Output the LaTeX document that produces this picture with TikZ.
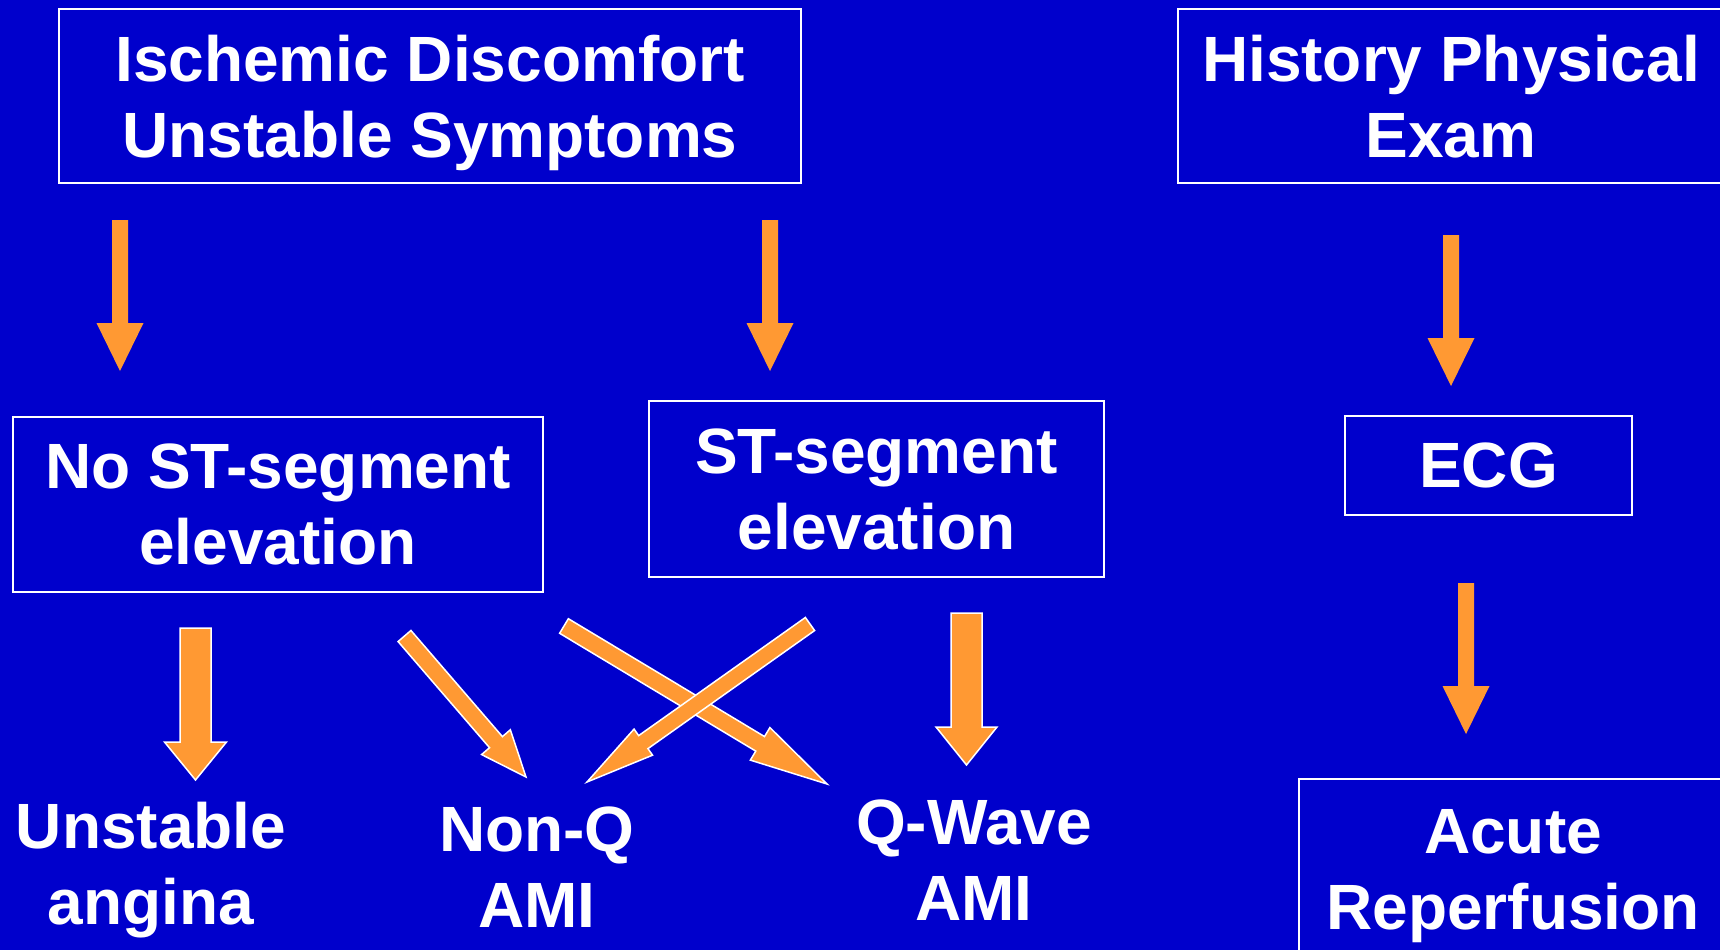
\documentclass[tikz,border=0pt]{standalone}
\usepackage{fontspec}
\setmainfont{Liberation Sans}
\usepackage{xcolor}
\usepackage{tikz}
\usetikzlibrary{calc}

\definecolor{slideblue}{HTML}{0000CC}
\definecolor{arrowfill}{HTML}{FF9933}

\tikzset{
  statebox/.style={draw=white, line width=2pt, text=white, align=center, inner sep=0pt,
    text depth=0pt, font=\fontsize{64}{76}\selectfont\bfseries},
  outcome/.style={text=white, align=center, inner sep=0pt,
    text depth=0pt, font=\fontsize{64}{76}\selectfont\bfseries},
  % block arrow: shaft width, head width, head length
  blockarrow/.style n args={3}{to path={
    ($(\tikztotarget)!#3!(\tikztostart)$) coordinate (hb)
    ($(\tikztostart)!#1/2!90:(\tikztotarget)$)
    -- ($(hb)!#1/2!90:(\tikztotarget)$)
    -- ($(hb)!#2/2!90:(\tikztotarget)$)
    -- (\tikztotarget)
    -- ($(hb)!#2/2!-90:(\tikztotarget)$)
    -- ($(hb)!#1/2!-90:(\tikztotarget)$)
    -- ($(\tikztostart)!#1/2!-90:(\tikztotarget)$)
    -- cycle}},
  thinarrow/.style={fill=arrowfill, blockarrow={16pt}{47pt}{48pt}},
  thickarrow/.style n args={3}{fill=arrowfill, draw=white, line width=1.5pt,
    blockarrow={#1}{#2}{#3}},
}

\begin{document}
\begin{tikzpicture}[x=1pt, y=-1pt]
    \fill[slideblue] (0,0) rectangle (1720,950);
    \useasboundingbox (0,0) rectangle (1720,950);
    \clip (0,0) rectangle (1720,950);
    % Boxes
    \node[statebox, minimum width=742, minimum height=174] (isch) at (430,96) {Ischemic Discomfort\\Unstable Symptoms};
    \node[statebox, minimum width=546, minimum height=174] (hist) at (1451,96) {History Physical\\Exam};
    \node[statebox, minimum width=530, minimum height=175] (nost) at (278,504.5) {No ST-segment\\elevation};
    \node[statebox, minimum width=455, minimum height=176] (stel) at (876.5,489) {ST-segment\\elevation};
    \node[statebox, minimum width=287, minimum height=99] (ecg) at (1488.5,465.5) {ECG};
    \node[statebox, minimum width=428, minimum height=180] (acute) at (1513,869) {Acute\\Reperfusion};
    % Outcomes
    \node[outcome] (ua) at (151,863) {Unstable\\angina};
    \node[outcome] (nonq) at (537,867) {Non-Q\\AMI};
    \node[outcome] (qwave) at (974,860) {Q-Wave\\AMI};
    % Arrow ends
    \coordinate (isch l) at (120,220);   \coordinate (nost t) at (120,371);
    \coordinate (isch r) at (770,220);   \coordinate (stel t) at (770,371);
    \coordinate (hist b) at (1451,235);  \coordinate (ecg t) at (1451,386);
    \coordinate (ecg b) at (1466,583);   \coordinate (acute t) at (1466,734);
    \coordinate (nost a) at (195.5,628); \coordinate (ua t) at (195.5,780);
    \coordinate (nost b) at (404.5,636); \coordinate (nonq a) at (526,777);
    \coordinate (nost c) at (564,626);   \coordinate (qwave a) at (827,784);
    \coordinate (stel a) at (810,624);   \coordinate (nonq b) at (587,782);
    \coordinate (stel b) at (966.5,613); \coordinate (qwave t) at (966.5,765);
    % Arrows
    \path[thinarrow] (isch l) to (nost t);
    \path[thinarrow] (isch r) to (stel t);
    \path[thinarrow] (hist b) to (ecg t);
    \path[thinarrow] (ecg b) to (acute t);
    \path[thickarrow={31pt}{62pt}{38pt}] (nost a) to (ua t);
    \path[thickarrow={17pt}{38pt}{46pt}] (nost b) to (nonq a);
    \path[thickarrow={17pt}{38pt}{78pt}] (nost c) to (qwave a);
    \path[thickarrow={16pt}{32pt}{69pt}] (stel a) to (nonq b);
    \path[thickarrow={31pt}{61pt}{38pt}] (stel b) to (qwave t);
\end{tikzpicture}
\end{document}
